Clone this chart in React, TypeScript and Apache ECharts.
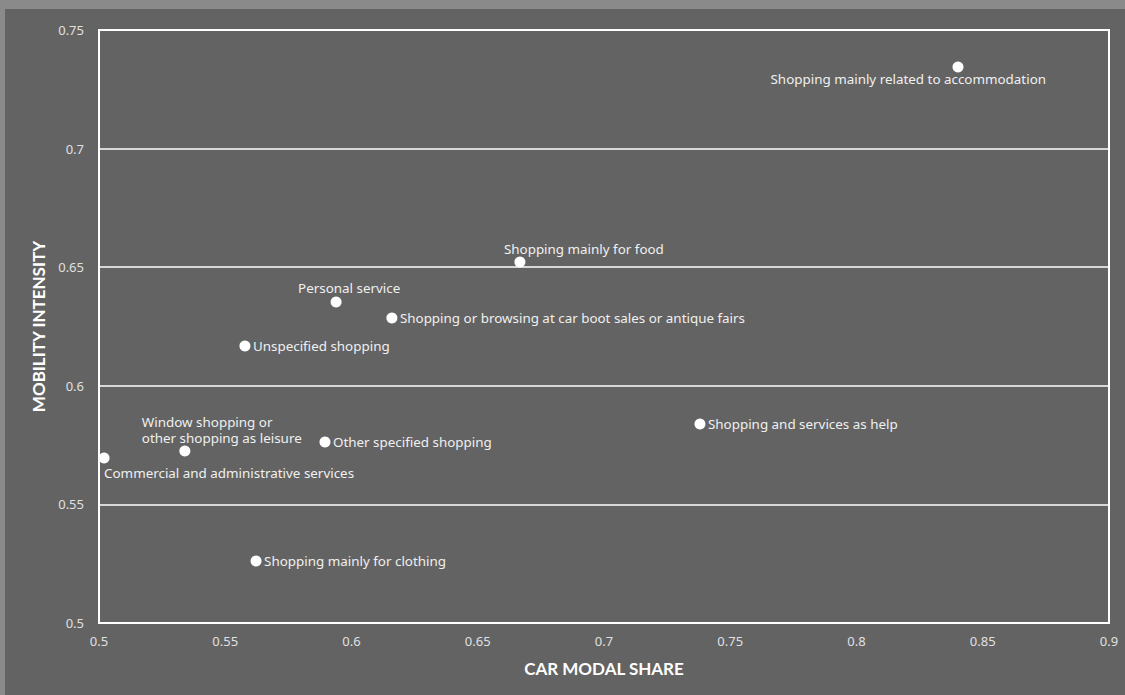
import React, { useEffect, useRef } from "react";
import * as echarts from "echarts";

const activities = [
  "Shopping mainly related to accommodation",
  "Shopping mainly for food",
  "Personal service",
  "Shopping or browsing at car boot sales or antique fairs",
  "Unspecified shopping",
  "Window shopping or\nother shopping as leisure",
  "Commercial and administrative services",
  "Other specified shopping",
  "Shopping and services as help",
  "Shopping mainly for clothing",
];
const carModalShare = [0.8402, 0.6667, 0.5939, 0.616, 0.5578, 0.534, 0.502, 0.5895, 0.738, 0.5622];
const mobilityIntensity = [0.7344, 0.6522, 0.6353, 0.6286, 0.6168, 0.5725, 0.5696, 0.5763, 0.5839, 0.5261];

// label placement (style only): [align, dx, dy]
const labelPlacement: [string, number, number][] = [
  ["right", 88, 12],
  ["left", -16, -13],
  ["left", -38, -14],
  ["left", 8, 0],
  ["left", 8, 0],
  ["left", -43, -21],
  ["left", 0, 15],
  ["left", 8, 0],
  ["left", 8, 0],
  ["left", 8, 0],
];

export default function App() {
  const ref = useRef<HTMLDivElement>(null);
  useEffect(() => {
    document.body.style.margin = "0";
    const chart = echarts.init(ref.current!, null, { renderer: "svg" });
    const FONT = "Noto Sans";
    chart.setOption({
      animation: false,
      backgroundColor: "#636363",
      grid: {
        left: 94,
        right: 16,
        top: 21,
        bottom: 72,
        show: true,
        borderColor: "#ffffff",
        borderWidth: 2,
      },
      xAxis: {
        type: "value",
        min: 0.5,
        max: 0.9,
        interval: 0.05,
        name: "CAR MODAL SHARE",
        nameLocation: "middle",
        nameGap: 37,
        nameTextStyle: { color: "#ffffff", fontSize: 17, fontWeight: "bold", fontFamily: "Lato" },
        axisLine: { show: false },
        axisTick: { show: false },
        splitLine: { show: false },
        axisLabel: { color: "#e0e0e0", fontSize: 13, fontFamily: FONT, margin: 11 },
      },
      yAxis: {
        type: "value",
        min: 0.5,
        max: 0.75,
        interval: 0.05,
        name: "MOBILITY INTENSITY",
        nameLocation: "middle",
        nameGap: 50,
        nameTextStyle: { color: "#ffffff", fontSize: 17, fontWeight: "bold", fontFamily: "Lato" },
        axisLine: { show: false },
        axisTick: { show: false },
        splitLine: { show: true, lineStyle: { color: "#ffffff", width: 1.5 } },
        axisLabel: { color: "#e0e0e0", fontSize: 13, fontFamily: FONT, margin: 15 },
      },
      series: [
        {
          type: "scatter",
          symbolSize: 11,
          itemStyle: { color: "#ffffff", opacity: 1 },
          data: activities.map((name, i) => ({
            name,
            value: [carModalShare[i], mobilityIntensity[i]],
            label: {
              show: true,
              position: "inside",
              align: labelPlacement[i][0],
              verticalAlign: "middle",
              offset: [labelPlacement[i][1], labelPlacement[i][2]],
              formatter: "{b}",
              color: "#f0f0f0",
              fontSize: 13.4,
              lineHeight: 16,
              fontFamily: FONT,
            },
          })),
        },
      ],
    });
    return () => chart.dispose();
  }, []);
  return (
    <div style={{ width: 1125, height: 695, background: "#8a8a8a", position: "relative", overflow: "hidden" }}>
      <div ref={ref} style={{ position: "absolute", left: 5, top: 9, width: 1120, height: 686 }} />
    </div>
  );
}
